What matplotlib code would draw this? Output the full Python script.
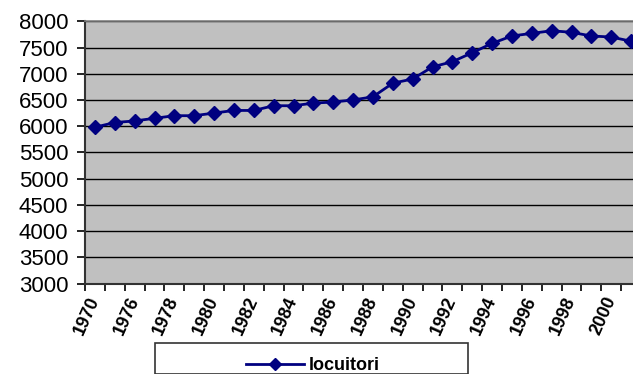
import matplotlib
matplotlib.use("Agg")
import matplotlib.pyplot as plt
from matplotlib.patches import Rectangle
from matplotlib.lines import Line2D

plt.rcParams["font.family"] = ["Liberation Sans", "DejaVu Sans"]

years = [1970] + list(range(1975, 2002))
locuitori = [5980, 6070, 6100, 6150, 6200, 6200, 6250, 6300, 6300, 6390,
             6390, 6440, 6460, 6500, 6560, 6820, 6900, 7130, 7230, 7400,
             7580, 7720, 7770, 7820, 7790, 7720, 7700, 7620]
yticks = list(range(3000, 8001, 500))

W, H = 633, 374
fig = plt.figure(figsize=(W / 100, H / 100), dpi=100)
ax = fig.add_axes([85 / W, 1 - 283.5 / H, 556 / W, 262.2 / H])
ax.set_facecolor("#c0c0c0")

x = list(range(len(years)))
ax.plot(x, locuitori, color="#000080", lw=2, marker="D", ms=7.5,
        markeredgecolor="#000080", zorder=3)

ax.set_ylim(3000, 8000)
ax.set_yticks(yticks)
ax.set_yticklabels([str(v) for v in yticks], fontsize=16)
ax.set_xlim(-0.5, len(years) - 0.5)

# ticks at category boundaries, labels every other category
ax.set_xticks([i - 0.5 for i in range(len(years) + 1)], minor=False)
ax.set_xticklabels([])
ax.set_xticks(x[::2], minor=True)
ax.set_xticklabels([str(y) for y in years[::2]], minor=True, rotation=66,
                   fontsize=13, fontweight="bold", ha="right", va="center",
                   rotation_mode="anchor")
ax.tick_params(axis="x", which="minor", length=0, pad=10)
ax.tick_params(axis="x", which="major", length=5, width=1.2, color="black")
ax.tick_params(axis="y", length=6, width=1.2, color="black", pad=6)

ax.grid(axis="y", color="black", lw=1)
ax.set_axisbelow(True)
for side in ["left", "bottom"]:
    ax.spines[side].set_color("#333333")
    ax.spines[side].set_linewidth(1.5)
ax.spines["top"].set_color("#808080")
ax.spines["top"].set_linewidth(1.2)
ax.spines["right"].set_visible(False)

# legend box
fig.patches.append(Rectangle((155 / W, 0), 313 / W, (374 - 342.5) / H,
                             transform=fig.transFigure, facecolor="white",
                             edgecolor="#333333", lw=1.2))
handle = Line2D([], [], color="#000080", lw=2, marker="D", ms=6.5)
fig.legend([handle], ["locuitori"], loc="center", bbox_to_anchor=(313 / W, 1 - 366 / H),
           frameon=False, prop={"weight": "bold", "size": 13}, handlelength=3.2,
           handletextpad=0.3)

fig.savefig("out.png", dpi=100)
